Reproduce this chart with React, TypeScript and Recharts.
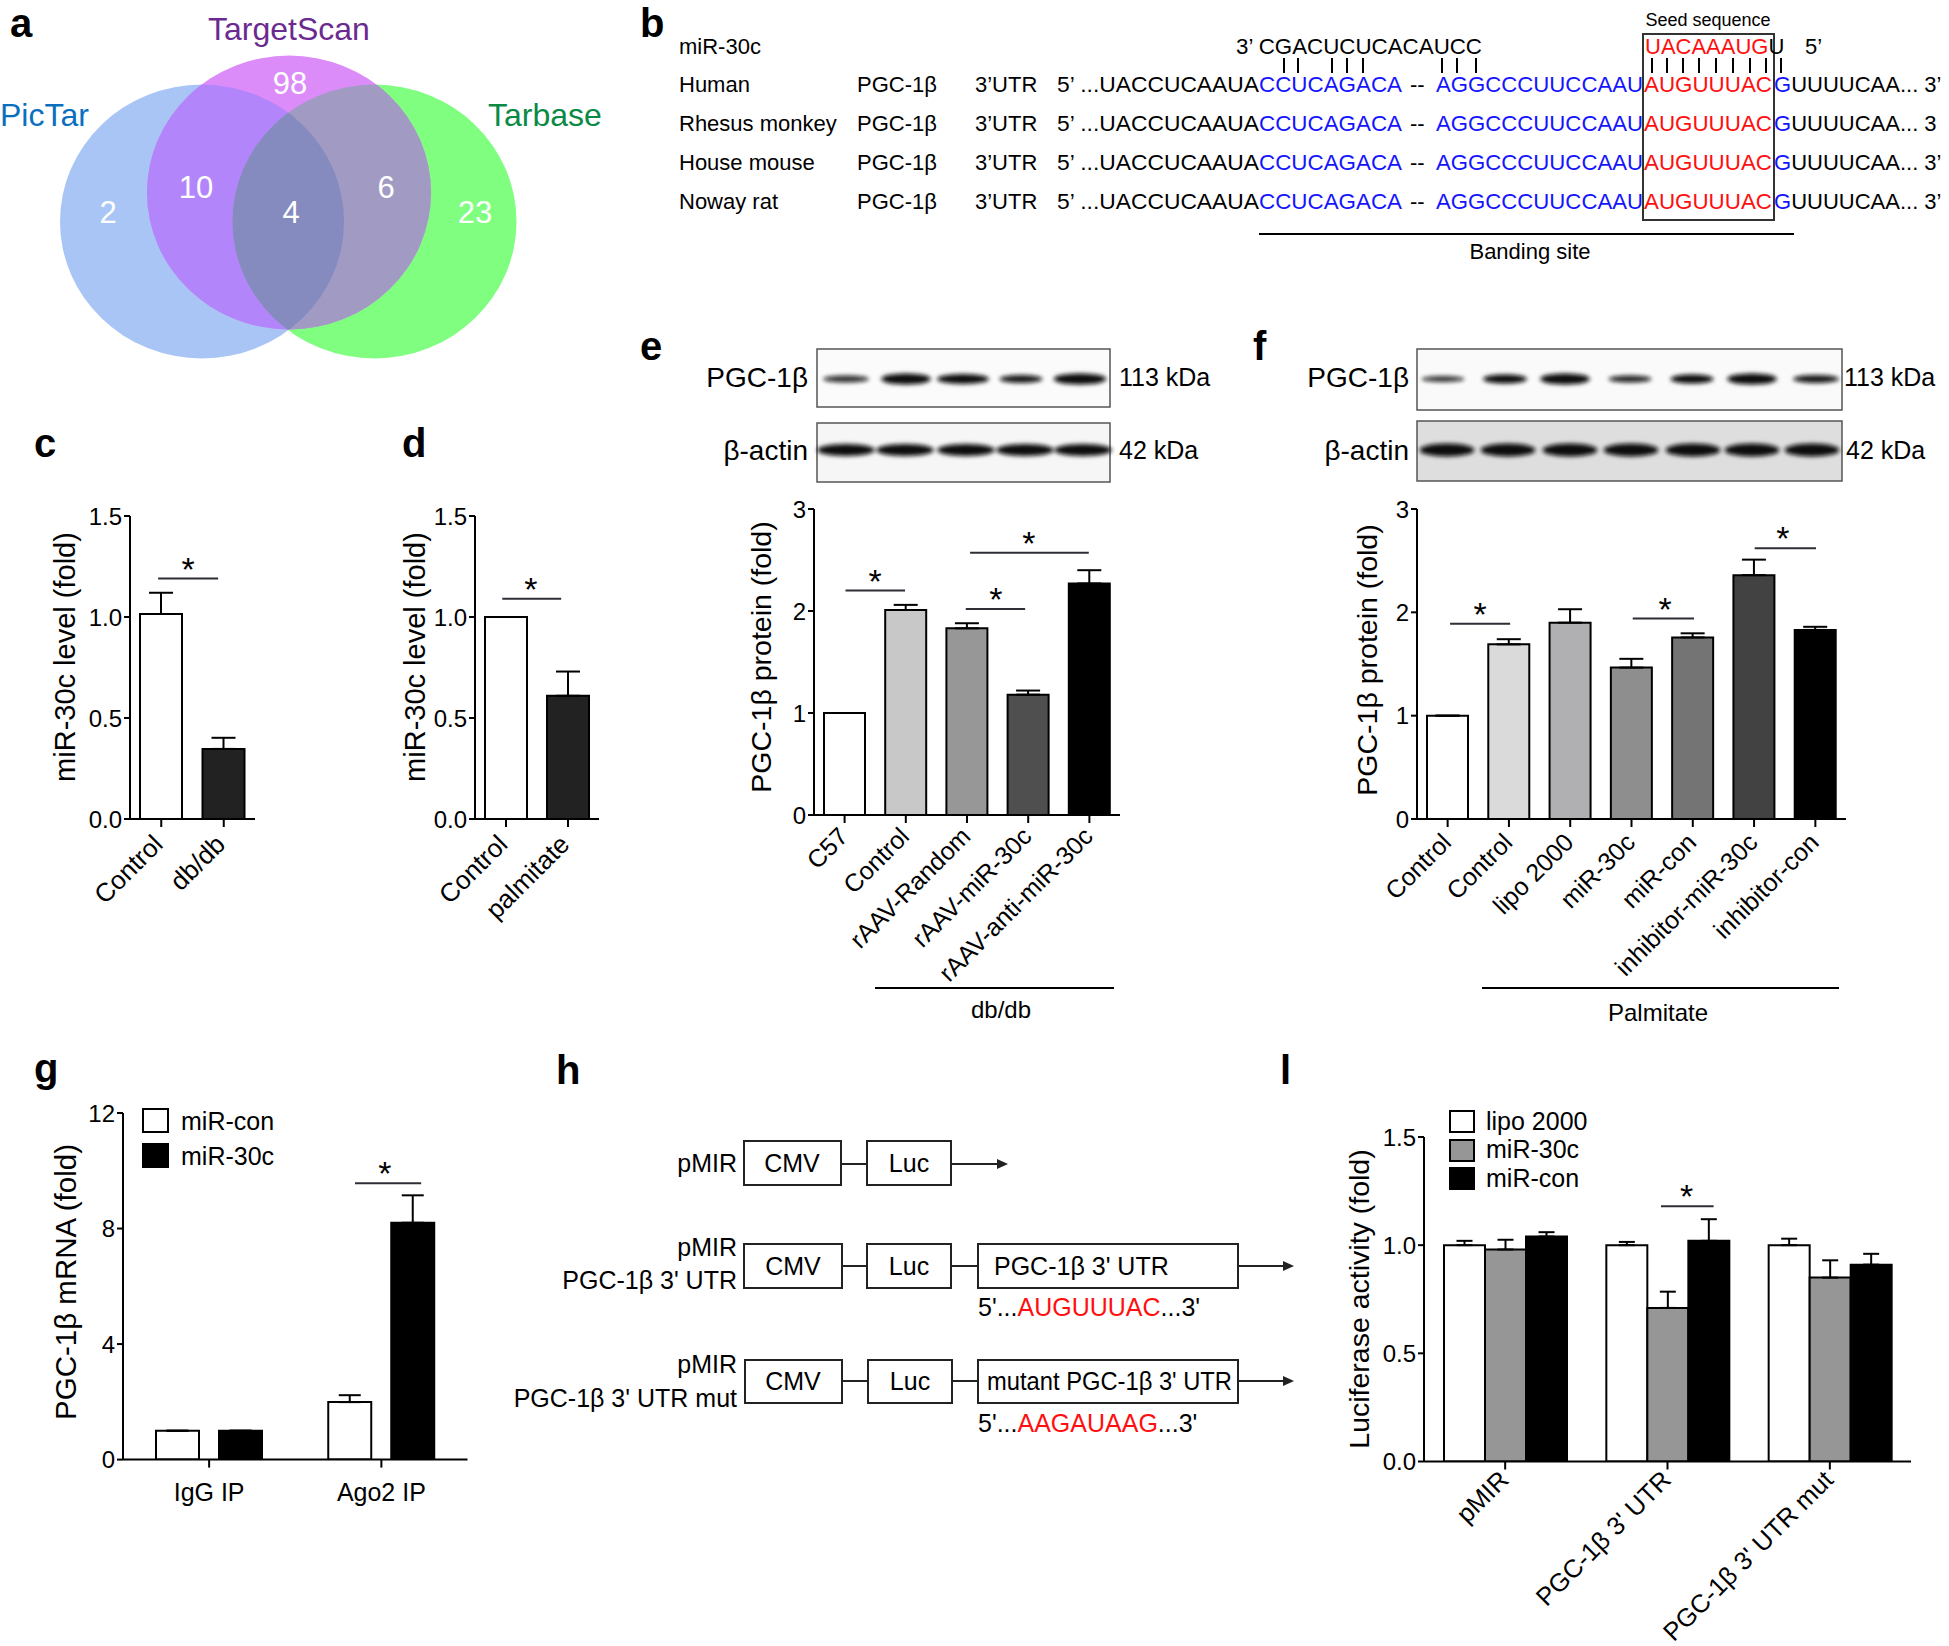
import React from 'react';
import { BarChart, Bar, XAxis, YAxis, Cell, ErrorBar, ReferenceLine, ReferenceDot } from 'recharts';

const FONT = 'Arial, "Liberation Sans", Helvetica, sans-serif';

// ---------- data ----------
// panel c
const cCategories = ['Control', 'db/db'];
const cValues = [1.015, 0.347];
const cErrors = [0.105, 0.055];
const cFills = ['#ffffff', '#222222'];
const cSig = [{ from: 0.45, to: 1.41, y: 1.19, star: 0.93 }];

// panel d
const dCategories = ['Control', 'palmitate'];
const dValues = [1.0, 0.61];
const dErrors = [0, 0.12];
const dFills = ['#ffffff', '#222222'];
const dSig = [{ from: 0.44, to: 1.39, y: 1.09, star: 0.9 }];

// panel e
const eCategories = ['C57', 'Control', 'rAAV-Random', 'rAAV-miR-30c', 'rAAV-anti-miR-30c'];
const eValues = [1.0, 2.01, 1.83, 1.18, 2.27];
const eErrors = [0, 0.05, 0.05, 0.04, 0.13];
const eFills = ['#ffffff', '#c8c8c8', '#979797', '#4f4f4f', '#000000'];
const eSig = [
  { from: 0.515, to: 1.487, y: 2.2, star: 1.0 },
  { from: 2.48, to: 3.45, y: 2.02, star: 2.97 },
  { from: 2.55, to: 4.49, y: 2.57, star: 3.51 },
];

// panel f
const fCategories = ['Control', 'Control', 'lipo 2000', 'miR-30c', 'miR-con', 'inhibitor-miR-30c', 'inhibitor-con'];
const fValues = [1.0, 1.69, 1.9, 1.465, 1.757, 2.36, 1.83];
const fErrors = [0, 0.05, 0.13, 0.085, 0.04, 0.15, 0.03];
const fFills = ['#ffffff', '#dadada', '#b0b0b3', '#8e8e8e', '#747474', '#424242', '#000000'];
const fSig = [
  { from: 0.54, to: 1.52, y: 1.89, star: 1.03 },
  { from: 3.52, to: 4.52, y: 1.94, star: 4.05 },
  { from: 5.51, to: 6.51, y: 2.62, star: 5.97 },
];

// panel g
const gCategories = ['IgG IP', 'Ago2 IP'];
const gSeriesNames = ['miR-con', 'miR-30c'];
const gMiRCon = [1.0, 1.99];
const gMiRConErr = [0, 0.24];
const gMiR30c = [1.0, 8.2];
const gMiR30cErr = [0, 0.95];
const gSig = [{ from: 1.347, to: 1.731, y: 9.57, star: 1.521 }];

// panel l
const lCategories = ['pMIR', 'PGC-1β 3\' UTR', 'PGC-1β 3\' UTR mut'];
const lSeriesNames = ['lipo 2000', 'miR-30c', 'miR-con'];
const lLipo = [1.0, 1.0, 1.0];
const lLipoErr = [0.02, 0.015, 0.03];
const lMiR30c = [0.98, 0.71, 0.85];
const lMiR30cErr = [0.045, 0.075, 0.08];
const lMiRCon = [1.04, 1.02, 0.91];
const lMiRConErr = [0.02, 0.1, 0.05];
const lSig = [{ from: 1.46, to: 1.784, y: 1.18, star: 1.617 }];

// tick labels
const ticks15 = [0, 0.5, 1.0, 1.5];
const ticks3 = [0, 1, 2, 3];
const ticks12 = [0, 4, 8, 12];

// Venn counts
const vennCounts = ['98', '10', '6', '2', '4', '23'];
const vennSets = ['PicTar', 'TargetScan', 'Tarbase'];

// panel b sequences
const bSpecies = ['Human', 'Rhesus monkey', 'House mouse', 'Noway rat'];
const bTails = ['UUUUCAA... 3’', 'UUUUCAA... 3', 'UUUUCAA... 3’', 'UUUUCAA... 3’'];

// ---------- chart helpers ----------
type Sig = { from: number; to: number; y: number; star: number };
type Series = { key: string; values: number[]; errors: number[]; fill?: string; fills?: string[] };

const Star = (p: any) => (
  <text x={p.cx} y={p.cy + 2} textAnchor="middle" fontSize={34} fontFamily={FONT} fill="#000">*</text>
);

function makeTick(labels: string[], mode: 'rot' | 'flat', fontSize: number, dx: number, dy: number) {
  return (props: any) => {
    const { x, y, index } = props;
    const text = labels[index];
    if (mode === 'flat') {
      return (
        <text x={x} y={y + dy} textAnchor="middle" fontSize={fontSize} fontFamily={FONT} fill="#000">{text}</text>
      );
    }
    const ax = x + dx;
    const ay = y + dy;
    return (
      <text x={ax} y={ay} transform={`rotate(-45 ${ax} ${ay})`} textAnchor="end" fontSize={fontSize} fontFamily={FONT} fill="#000">{text}</text>
    );
  };
}

type ChartProps = {
  pl: number; pt: number; pr: number; pb: number;
  categories: string[];
  series: Series[];
  domain: [number, number];
  ticks: number[];
  decimals: number;
  sig: Sig[];
  tick: (p: any) => any;
  barSize: number;
  barGap?: number;
  capHalf: number;
};

function FigBarChart(props: ChartProps) {
  const { pl, pt, pr, pb, categories, series, domain, ticks, decimals, sig, tick, barSize, barGap = 0, capHalf } = props;
  const YW = 70, T = 30, R = 10, XH = 200;
  const width = pr - pl + YW + R;
  const height = pb - pt + T + XH;
  const data = categories.map((c, i) => {
    const row: any = { key: 'k' + i, label: c };
    series.forEach((s) => {
      row[s.key] = s.values[i];
      row[s.key + 'Err'] = [0, s.errors[i]];
    });
    return row;
  });
  const axisStyle = { stroke: '#000', strokeWidth: 2 };
  return (
    <div style={{ position: 'absolute', left: pl - YW, top: pt - T, width, height }}>
      <BarChart width={width} height={height} data={data} margin={{ top: T, right: R, bottom: 0, left: 0 }} barGap={barGap}>
        <XAxis dataKey="key" type="category" height={XH} tickSize={8} interval={0} axisLine={axisStyle} tickLine={axisStyle} tick={tick} />
        <XAxis xAxisId="n" dataKey={series[0].key} type="number" domain={[0, categories.length]} allowDataOverflow hide />
        <YAxis type="number" domain={domain} ticks={ticks} width={YW} tickSize={6} interval={0}
          axisLine={axisStyle} tickLine={axisStyle}
          tick={{ fontSize: 24, fill: '#000', fontFamily: FONT }}
          tickFormatter={(v: number) => v.toFixed(decimals)} allowDataOverflow />
        {series.map((s) => (
          <Bar key={s.key} dataKey={s.key} barSize={barSize} fill={s.fill || '#fff'} stroke="#000" strokeWidth={2} isAnimationActive={false}>
            {s.fills ? s.fills.map((f, i) => <Cell key={i} fill={f} />) : null}
            <ErrorBar dataKey={s.key + 'Err'} width={capHalf} stroke="#000" strokeWidth={2} direction="y" isAnimationActive={false} />
          </Bar>
        ))}
        {sig.map((s, i) => (
          <ReferenceLine key={'sl' + i} xAxisId="n" segment={[{ x: s.from, y: s.y }, { x: s.to, y: s.y }]} stroke="#2e2e36" strokeWidth={2} ifOverflow="visible" />
        ))}
        {sig.map((s, i) => (
          <ReferenceDot key={'sd' + i} xAxisId="n" x={s.star} y={s.y} r={0} ifOverflow="visible" shape={Star} />
        ))}
      </BarChart>
    </div>
  );
}

// ---------- static drawing ----------
const Txt = (p: any) => <text fontFamily={FONT} fill="#000" {...p} />;

function Arrow({ x1, x2, y }: { x1: number; x2: number; y: number }) {
  return (
    <g>
      <line x1={x1} y1={y} x2={x2 - 8} y2={y} stroke="#222" strokeWidth={2} />
      <polygon points={`${x2},${y} ${x2 - 11},${y - 5} ${x2 - 11},${y + 5}`} fill="#222" />
    </g>
  );
}

function Box({ x, y, w, h }: { x: number; y: number; w: number; h: number }) {
  return <rect x={x} y={y} width={w} height={h} fill="#fff" stroke="#222" strokeWidth={2} />;
}

function Band({ cx, cy, w, h, op }: { cx: number; cy: number; w: number; h: number; op: number }) {
  return <ellipse cx={cx} cy={cy} rx={w / 2} ry={h / 2} fill="#0c0c0c" opacity={op} filter="url(#blur)" />;
}

const ePgcBands = [
  { cx: 846, w: 46, h: 7, op: 0.85 },
  { cx: 906, w: 50, h: 11, op: 1 },
  { cx: 963, w: 52, h: 10, op: 1 },
  { cx: 1021, w: 43, h: 8, op: 0.95 },
  { cx: 1080, w: 53, h: 11, op: 1 },
];
const eActinBands = [846, 905, 966, 1025, 1083];
const fPgcBands = [
  { cx: 1443, w: 43, h: 6, op: 0.85 },
  { cx: 1505, w: 44, h: 9, op: 1 },
  { cx: 1565, w: 50, h: 11, op: 1 },
  { cx: 1630, w: 43, h: 7, op: 0.9 },
  { cx: 1692, w: 43, h: 9, op: 1 },
  { cx: 1752, w: 50, h: 11, op: 1 },
  { cx: 1816, w: 46, h: 8, op: 0.95 },
];
const fActinBands = [1447, 1508, 1570, 1631, 1693, 1752, 1812];

const BLUE = '#1414ff';
const RED = '#ff1010';

function StaticLayer() {
  const blue = { cx: 202, cy: 221.5, rx: 142, ry: 137 };
  const purple = { cx: 289, cy: 192.5, rx: 142, ry: 137 };
  const green = { cx: 374.5, cy: 221.5, rx: 142, ry: 137 };
  const rowY = [92, 131, 170, 209];
  const pairBars = [1284, 1298, 1332, 1347, 1363, 1442, 1457, 1476, 1652, 1667, 1683, 1699, 1716, 1733, 1750, 1766, 1781];
  const panelLetters = [
    { t: 'a', x: 10, y: 37 }, { t: 'b', x: 640, y: 37 }, { t: 'c', x: 34, y: 457 }, { t: 'd', x: 402, y: 457 },
    { t: 'e', x: 640, y: 360 }, { t: 'f', x: 1253, y: 360 }, { t: 'g', x: 34, y: 1082 }, { t: 'h', x: 556, y: 1084 },
    { t: 'l', x: 1280, y: 1084 },
  ];
  return (
    <svg width={1949} height={1646} style={{ position: 'absolute', left: 0, top: 0 }}>
      <defs>
        <clipPath id="cpBlue"><ellipse {...blue} /></clipPath>
        <clipPath id="cpGreen"><ellipse {...green} /></clipPath>
        <filter id="blur" x="-30%" y="-150%" width="160%" height="400%"><feGaussianBlur stdDeviation="2.2" /></filter>
      </defs>

      {panelLetters.map((p) => (
        <Txt key={p.t} x={p.x} y={p.y} fontSize={40} fontWeight="bold">{p.t}</Txt>
      ))}

      {/* ---- panel a: Venn ---- */}
      <ellipse {...blue} fill="#a9c5f5" />
      <ellipse {...green} fill="#80fe80" />
      <g clipPath="url(#cpBlue)"><ellipse {...green} fill="#858abf" /></g>
      <ellipse {...purple} fill="#dc8cf9" />
      <g clipPath="url(#cpBlue)"><ellipse {...purple} fill="#b385fa" /></g>
      <g clipPath="url(#cpGreen)"><ellipse {...purple} fill="#a19bc4" /></g>
      <g clipPath="url(#cpBlue)"><g clipPath="url(#cpGreen)"><ellipse {...purple} fill="#858abf" /></g></g>
      <Txt x={0} y={126} fontSize={32} fill="#0a6fbf">{vennSets[0]}</Txt>
      <Txt x={208} y={40} fontSize={32} fill="#6b2a8f">{vennSets[1]}</Txt>
      <Txt x={488} y={126} fontSize={32} fill="#0a8a45">{vennSets[2]}</Txt>
      {[
        [290, 94], [196, 198], [386, 198], [108, 223], [291, 223], [475, 223],
      ].map((p, i) => (
        <Txt key={i} x={p[0]} y={p[1]} fontSize={31} fill="#fff" textAnchor="middle">{vennCounts[i]}</Txt>
      ))}

      {/* ---- panel b ---- */}
      <Txt x={1708} y={26} fontSize={18} textAnchor="middle">Seed sequence</Txt>
      <rect x={1643} y={34} width={131} height={186} fill="none" stroke="#333" strokeWidth={2} />
      <Txt x={679} y={54} fontSize={22}>miR-30c</Txt>
      <Txt x={1236} y={54} fontSize={22} textLength={246} lengthAdjust="spacingAndGlyphs">3’ CGACUCUCACAUCC</Txt>
      <Txt x={1645} y={54} fontSize={22}>
        <tspan fill={RED}>UACAAAUG</tspan><tspan>U</tspan>
      </Txt>
      <Txt x={1805} y={54} fontSize={22}>5’</Txt>
      {pairBars.map((x, i) => (
        <line key={i} x1={x} y1={58} x2={x} y2={73} stroke="#000" strokeWidth={2} />
      ))}
      {bSpecies.map((s, i) => (
        <g key={s}>
          <Txt x={679} y={rowY[i]} fontSize={22}>{s}</Txt>
          <Txt x={857} y={rowY[i]} fontSize={22}>PGC-1β</Txt>
          <Txt x={975} y={rowY[i]} fontSize={22}>3’UTR</Txt>
          <Txt x={1057} y={rowY[i]} fontSize={22} textLength={202} lengthAdjust="spacingAndGlyphs">5’ ...UACCUCAAUA</Txt>
          <Txt x={1259} y={rowY[i]} fontSize={22} fill={BLUE} textLength={143} lengthAdjust="spacingAndGlyphs">CCUCAGACA</Txt>
          <Txt x={1410} y={rowY[i]} fontSize={22}>--</Txt>
          <Txt x={1436} y={rowY[i]} fontSize={22} fill={BLUE} textLength={207} lengthAdjust="spacingAndGlyphs">AGGCCCUUCCAAU</Txt>
          <Txt x={1644} y={rowY[i]} fontSize={22} fill={RED} textLength={128} lengthAdjust="spacingAndGlyphs">AUGUUUAC</Txt>
          <Txt x={1774} y={rowY[i]} fontSize={22}>
            <tspan fill={BLUE}>G</tspan><tspan>{bTails[i]}</tspan>
          </Txt>
        </g>
      ))}
      <line x1={1259} y1={234} x2={1794} y2={234} stroke="#000" strokeWidth={2} />
      <Txt x={1530} y={259} fontSize={22} textAnchor="middle">Banding site</Txt>

      {/* ---- panel e blots ---- */}
      <rect x={817} y={349} width={293} height={58} fill="#fbfbfb" stroke="#555" strokeWidth={1.5} />
      <rect x={817} y={423} width={293} height={59} fill="#f6f6f6" stroke="#555" strokeWidth={1.5} />
      {ePgcBands.map((b, i) => <Band key={i} cx={b.cx} cy={379} w={b.w} h={b.h} op={b.op} />)}
      {eActinBands.map((x, i) => <Band key={i} cx={x} cy={450} w={58} h={12} op={1} />)}
      <Txt x={808} y={387} fontSize={28} textAnchor="end">PGC-1β</Txt>
      <Txt x={808} y={460} fontSize={28} textAnchor="end">β-actin</Txt>
      <Txt x={1119} y={386} fontSize={25}>113 kDa</Txt>
      <Txt x={1119} y={459} fontSize={25}>42 kDa</Txt>
      <line x1={875} y1={988} x2={1114} y2={988} stroke="#000" strokeWidth={2} />
      <Txt x={1001} y={1018} fontSize={24} textAnchor="middle">db/db</Txt>

      {/* ---- panel f blots ---- */}
      <rect x={1417} y={349} width={425} height={61} fill="#fafafa" stroke="#555" strokeWidth={1.5} />
      <rect x={1417} y={421} width={425} height={60} fill="#dedede" stroke="#555" strokeWidth={1.5} />
      {fPgcBands.map((b, i) => <Band key={i} cx={b.cx} cy={379} w={b.w} h={b.h} op={b.op} />)}
      {fActinBands.map((x, i) => <Band key={i} cx={x} cy={450} w={55} h={13} op={1} />)}
      <Txt x={1409} y={387} fontSize={28} textAnchor="end">PGC-1β</Txt>
      <Txt x={1409} y={460} fontSize={28} textAnchor="end">β-actin</Txt>
      <Txt x={1844} y={386} fontSize={25}>113 kDa</Txt>
      <Txt x={1846} y={459} fontSize={25}>42 kDa</Txt>
      <line x1={1482} y1={988} x2={1839} y2={988} stroke="#000" strokeWidth={2} />
      <Txt x={1658} y={1021} fontSize={24} textAnchor="middle">Palmitate</Txt>

      {/* ---- y axis titles ---- */}
      {[
        { x: 65, y: 657, t: 'miR-30c level (fold)', s: 29 },
        { x: 415, y: 657, t: 'miR-30c level (fold)', s: 29 },
        { x: 761, y: 657, t: 'PGC-1β protein (fold)', s: 28.5 },
        { x: 1367, y: 660, t: 'PGC-1β protein (fold)', s: 28.5 },
        { x: 65, y: 1282, t: 'PGC-1β mRNA (fold)', s: 29.5 },
        { x: 1359, y: 1299, t: 'Luciferase activity (fold)', s: 28.5 },
      ].map((a, i) => (
        <Txt key={i} x={a.x} y={a.y} fontSize={a.s} textAnchor="middle" dominantBaseline="central" transform={`rotate(-90 ${a.x} ${a.y})`}>{a.t}</Txt>
      ))}

      {/* ---- legends g and l ---- */}
      <rect x={143} y={1109} width={25} height={23} fill="#fff" stroke="#000" strokeWidth={2} />
      <rect x={143} y={1144} width={25} height={23} fill="#000" stroke="#000" strokeWidth={2} />
      <Txt x={181} y={1130} fontSize={25}>{gSeriesNames[0]}</Txt>
      <Txt x={181} y={1165} fontSize={25}>{gSeriesNames[1]}</Txt>
      <rect x={1450} y={1111} width={24} height={21} fill="#fff" stroke="#000" strokeWidth={2} />
      <rect x={1450} y={1140} width={24} height={21} fill="#969696" stroke="#000" strokeWidth={2} />
      <rect x={1450} y={1168} width={24} height={21} fill="#000" stroke="#000" strokeWidth={2} />
      <Txt x={1486} y={1130} fontSize={25}>{lSeriesNames[0]}</Txt>
      <Txt x={1486} y={1158} fontSize={25}>{lSeriesNames[1]}</Txt>
      <Txt x={1486} y={1187} fontSize={25}>{lSeriesNames[2]}</Txt>

      {/* ---- panel h ---- */}
      <Txt x={737} y={1172} fontSize={25} textAnchor="end">pMIR</Txt>
      <Box x={744} y={1141} w={97} h={44} />
      <Txt x={792} y={1172} fontSize={25} textAnchor="middle">CMV</Txt>
      <line x1={841} y1={1164} x2={867} y2={1164} stroke="#222" strokeWidth={2} />
      <Box x={867} y={1141} w={84} h={44} />
      <Txt x={909} y={1172} fontSize={25} textAnchor="middle">Luc</Txt>
      <Arrow x1={951} x2={1008} y={1164} />

      <Txt x={737} y={1256} fontSize={25} textAnchor="end">pMIR</Txt>
      <Txt x={737} y={1289} fontSize={25} textAnchor="end">PGC-1β 3' UTR</Txt>
      <Box x={744} y={1244} w={98} h={44} />
      <Txt x={793} y={1275} fontSize={25} textAnchor="middle">CMV</Txt>
      <line x1={842} y1={1266} x2={867} y2={1266} stroke="#222" strokeWidth={2} />
      <Box x={867} y={1244} w={84} h={44} />
      <Txt x={909} y={1275} fontSize={25} textAnchor="middle">Luc</Txt>
      <line x1={951} y1={1266} x2={978} y2={1266} stroke="#222" strokeWidth={2} />
      <Box x={978} y={1244} w={260} h={44} />
      <Txt x={994} y={1275} fontSize={25}>PGC-1β 3' UTR</Txt>
      <Arrow x1={1238} x2={1294} y={1266} />
      <Txt x={978} y={1316} fontSize={25}>5'...<tspan fill={RED}>AUGUUUAC</tspan>...3'</Txt>

      <Txt x={737} y={1373} fontSize={25} textAnchor="end">pMIR</Txt>
      <Txt x={737} y={1407} fontSize={25} textAnchor="end">PGC-1β 3' UTR mut</Txt>
      <Box x={745} y={1360} w={97} h={43} />
      <Txt x={793} y={1390} fontSize={25} textAnchor="middle">CMV</Txt>
      <line x1={842} y1={1381} x2={868} y2={1381} stroke="#222" strokeWidth={2} />
      <Box x={868} y={1360} w={84} h={43} />
      <Txt x={910} y={1390} fontSize={25} textAnchor="middle">Luc</Txt>
      <line x1={952} y1={1381} x2={978} y2={1381} stroke="#222" strokeWidth={2} />
      <Box x={978} y={1360} w={260} h={43} />
      <Txt x={987} y={1390} fontSize={25} textLength={245} lengthAdjust="spacingAndGlyphs">mutant PGC-1β 3' UTR</Txt>
      <Arrow x1={1238} x2={1294} y={1381} />
      <Txt x={978} y={1432} fontSize={25}>5'...<tspan fill={RED}>AAGAUAAG</tspan>...3'</Txt>
    </svg>
  );
}

export default function App() {
  return (
    <div style={{ position: 'absolute', left: 0, top: 0, width: 1949, height: 1646, background: '#fff', overflow: 'hidden', fontFamily: FONT }}>
      <StaticLayer />
      <FigBarChart pl={130} pt={516} pr={255} pb={819} categories={cCategories}
        series={[{ key: 'v', values: cValues, errors: cErrors, fills: cFills }]}
        domain={[0, 1.5]} ticks={ticks15} decimals={1} sig={cSig}
        tick={makeTick(cCategories, 'rot', 26, 3, 17)} barSize={42} capHalf={12} />
      <FigBarChart pl={475} pt={516} pr={599} pb={819} categories={dCategories}
        series={[{ key: 'v', values: dValues, errors: dErrors, fills: dFills }]}
        domain={[0, 1.5]} ticks={ticks15} decimals={1} sig={dSig}
        tick={makeTick(dCategories, 'rot', 26, 3, 17)} barSize={42} capHalf={12} />
      <FigBarChart pl={814} pt={509} pr={1120} pb={815} categories={eCategories}
        series={[{ key: 'v', values: eValues, errors: eErrors, fills: eFills }]}
        domain={[0, 3]} ticks={ticks3} decimals={0} sig={eSig}
        tick={makeTick(eCategories, 'rot', 25, 5, 13)} barSize={41} capHalf={12} />
      <FigBarChart pl={1417} pt={509} pr={1846} pb={819} categories={fCategories}
        series={[{ key: 'v', values: fValues, errors: fErrors, fills: fFills }]}
        domain={[0, 3]} ticks={ticks3} decimals={0} sig={fSig}
        tick={makeTick(fCategories, 'rot', 25, 5, 15)} barSize={41} capHalf={12} />
      <FigBarChart pl={122.5} pt={1112.7} pr={467} pb={1459.3} categories={gCategories}
        series={[
          { key: 'a', values: gMiRCon, errors: gMiRConErr, fill: '#ffffff' },
          { key: 'b', values: gMiR30c, errors: gMiR30cErr, fill: '#000000' },
        ]}
        domain={[0, 12]} ticks={ticks12} decimals={0} sig={gSig}
        tick={makeTick(gCategories, 'flat', 25, 0, 31)} barSize={43} barGap={20} capHalf={11} />
      <FigBarChart pl={1423.5} pt={1136.5} pr={1910.5} pb={1461} categories={lCategories}
        series={[
          { key: 'a', values: lLipo, errors: lLipoErr, fill: '#ffffff' },
          { key: 'b', values: lMiR30c, errors: lMiR30cErr, fill: '#969696' },
          { key: 'c', values: lMiRCon, errors: lMiRConErr, fill: '#000000' },
        ]}
        domain={[0, 1.5]} ticks={ticks15} decimals={1} sig={lSig}
        tick={makeTick(lCategories, 'rot', 25.5, 5, 10)} barSize={41} barGap={0} capHalf={8} />
    </div>
  );
}
